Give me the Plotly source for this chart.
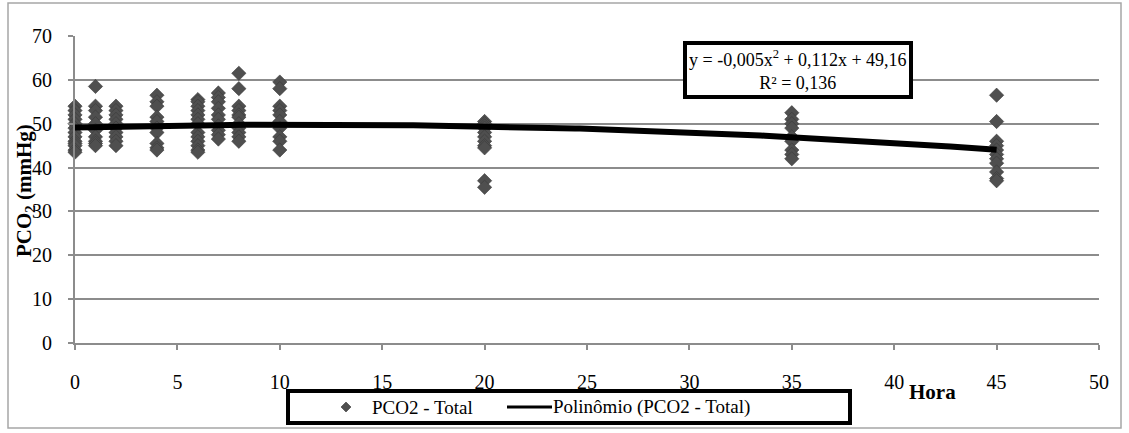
import numpy as np
import plotly.graph_objects as go

# PCO2 readings (mmHg) grouped by hour of collection
hours = [0, 1, 2, 4, 6, 7, 8, 10, 20, 35, 45]
pco2_by_hour = [
    [54, 53, 52, 51, 50, 49, 48, 47, 46, 45.5, 45, 44, 43.5],
    [58.5, 54, 53, 51.5, 50, 48.5, 47, 46, 45.5, 45],
    [54, 53, 52, 51, 50, 49, 48, 47, 46, 45],
    [56.5, 55, 54, 51.5, 50.5, 49, 48, 45.5, 44.5, 44],
    [55.5, 55, 54, 53, 52, 51, 50, 48, 47, 46, 45, 44, 43.5],
    [57, 56, 55, 53.5, 52, 51, 49.5, 48.5, 47.5, 46.5],
    [61.5, 58, 54, 53, 52, 51.5, 50, 49, 48, 47, 46],
    [59.5, 58, 54, 53, 52, 50.5, 49, 47, 46, 44],
    [50.5, 50, 49.5, 49, 48, 47, 46, 45, 44.5, 37, 35.5],
    [52.5, 51, 50, 49, 47, 46, 44, 43, 42],
    [56.5, 50.5, 46, 45, 44, 43, 42, 41, 39, 37.5, 37],
]

# Second-order polynomial trend (coefficients as printed in the label)
poly_coef = [-0.005, 0.112, 49.16]
r_squared = "0,136"
x_ticks = [0, 5, 10, 15, 20, 25, 30, 35, 40, 45, 50]
y_ticks = [0, 10, 20, 30, 40, 50, 60, 70]
series_names = ["PCO2 - Total", "Polinômio (PCO2 - Total)"]

xs, ys = [], []
for h, vals in zip(hours, pco2_by_hour):
    xs += [h] * len(vals)
    ys += vals

trend_x = np.linspace(0, 45, 200)
trend_y = np.polyval(poly_coef, trend_x)

FONT = "Liberation Serif"
GRID = "#8c8c8c"
W, H = 1129, 433
L, R, T, B = 75, 30, 36, 90
PW, PH = W - L - R, H - T - B


def px(x):
    """Horizontal page pixel -> paper fraction."""
    return (x - L) / PW


def py(y):
    """Vertical page pixel -> paper fraction."""
    return (H - B - y) / PH


fig = go.Figure()
fig.add_trace(go.Scatter(
    x=xs, y=ys, mode="markers", name=series_names[0], cliponaxis=False,
    marker=dict(symbol="diamond", size=11, color="#4f4f4f",
                line=dict(width=0.6, color="#3a3a3a")),
))
fig.add_trace(go.Scatter(
    x=trend_x, y=trend_y, mode="lines", name=series_names[1],
    line=dict(color="black", width=6),
))

# Legend box drawn by hand: frame, diamond swatch, line swatch
legend_y = py(407)
shapes = [
    dict(type="rect", xref="paper", yref="paper",
         x0=px(8), x1=px(1121), y0=py(428), y1=py(3),
         line=dict(color="#a6a6a6", width=1.5), layer="below"),
    dict(type="rect", xref="paper", yref="paper",
         x0=px(288), x1=px(850), y0=py(423), y1=py(391),
         line=dict(color="black", width=4), fillcolor="white"),
    dict(type="path", xref="paper", yref="paper",
         xsizemode="pixel", ysizemode="pixel",
         xanchor=px(346), yanchor=legend_y,
         path="M 0,5 L 5,0 L 0,-5 L -5,0 Z",
         fillcolor="#4f4f4f", line=dict(color="#3a3a3a", width=0.6)),
    dict(type="line", xref="paper", yref="paper",
         x0=px(507), x1=px(552), y0=legend_y, y1=legend_y,
         line=dict(color="black", width=3)),
]

annotations = [
    dict(text="<b>PCO<sub>2</sub> (mmHg)</b>", textangle=-90,
         xref="paper", yref="paper", x=0, y=py(191), xshift=-50,
         xanchor="center", yanchor="middle",
         showarrow=False, font=dict(family=FONT, size=21, color="black")),
    dict(text="<b>Hora</b>", xref="paper", yref="paper", x=px(932), y=py(392),
         showarrow=False, xanchor="center", yanchor="middle",
         font=dict(family=FONT, size=21, color="black")),
    dict(text=("y = -0,005x<sup>2</sup> + 0,112x + 49,16<br>R² = " + r_squared),
         xref="paper", yref="paper", x=px(798), y=py(70),
         xanchor="center", yanchor="middle",
         showarrow=False, align="center",
         bordercolor="black", borderwidth=4, borderpad=2, bgcolor="white",
         font=dict(family=FONT, size=18, color="black")),
    dict(text=series_names[0], xref="paper", yref="paper",
         x=px(370), y=legend_y, xanchor="left", yanchor="middle",
         showarrow=False, font=dict(family=FONT, size=19, color="black")),
    dict(text=series_names[1], xref="paper", yref="paper",
         x=px(551), y=legend_y, xanchor="left", yanchor="middle",
         showarrow=False, font=dict(family=FONT, size=19, color="black")),
]

fig.update_layout(
    width=W, height=H,
    margin=dict(l=L, r=R, t=T, b=B, autoexpand=False),
    paper_bgcolor="white", plot_bgcolor="white",
    font=dict(family=FONT, size=20, color="black"),
    showlegend=False,
    xaxis=dict(
        range=[0, 50], tickvals=x_ticks, ticktext=[str(v) for v in x_ticks],
        showgrid=False, zeroline=False,
        showline=True, linecolor=GRID, linewidth=2,
        ticks="outside", ticklen=5, tickcolor=GRID, tickwidth=2,
        ticklabelstandoff=15,
        tickfont=dict(family=FONT, size=20, color="black"),
    ),
    yaxis=dict(
        range=[0, 70], tickvals=y_ticks, ticktext=[str(v) for v in y_ticks],
        showgrid=True, gridcolor=GRID, gridwidth=2, zeroline=False,
        showline=True, linecolor=GRID, linewidth=2,
        ticks="outside", ticklen=5, tickcolor=GRID, tickwidth=2,
        ticklabelstandoff=12,
        tickfont=dict(family=FONT, size=20, color="black"),
    ),
    shapes=shapes,
    annotations=annotations,
)

fig.write_html("out.html")
